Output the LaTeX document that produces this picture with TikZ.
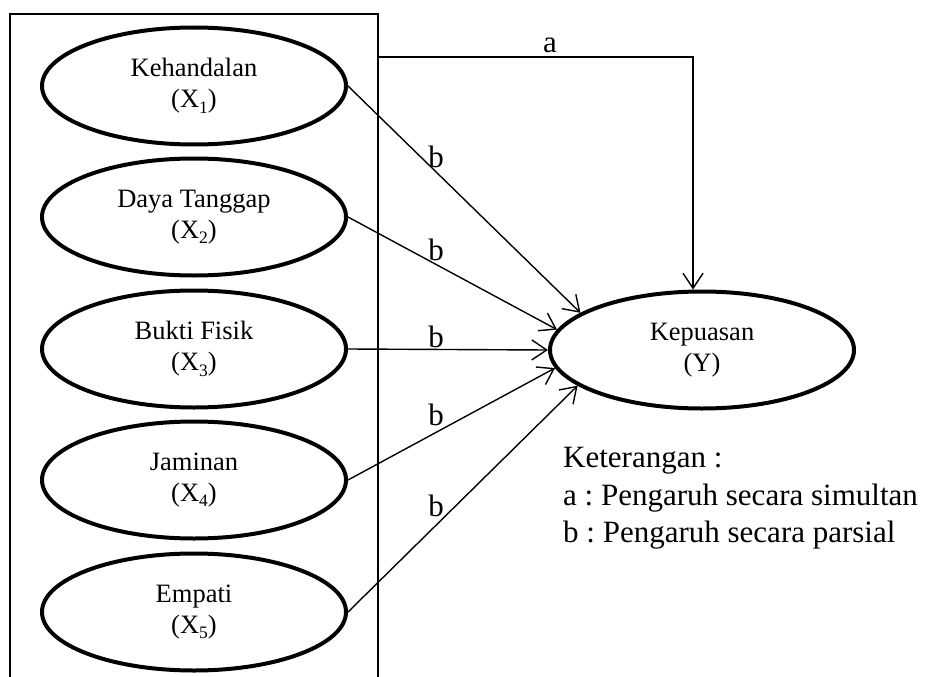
\documentclass[tikz,border=0pt]{standalone}
\usepackage{fontspec}
\setmainfont{Liberation Serif}
\usetikzlibrary{shapes.geometric,arrows.meta}
\newcommand\mysub[1]{\raisebox{-0.2em}{\fontsize{17.5}{17.5}\selectfont #1}}
\frenchspacing
\begin{document}
\begin{tikzpicture}[x=1pt,y=-1pt,
  var/.style={ellipse,draw,line width=4pt,minimum width=304pt,minimum height=117pt,inner sep=0pt,align=center,font=\fontsize{26.5}{31}\selectfont},
  conn/.style={line width=1.4pt,-{Straight Barb[length=15pt,width=20pt]}},
  lbl/.style={font=\fontsize{31}{37}\selectfont,inner sep=0pt},
  frame/.style={line width=1.4pt}]
\useasboundingbox (0,0) rectangle (929,677);
% frame
\draw[frame] (10,680) -- (10,14) -- (378,14) -- (378,680);
% variables
\node[var] (X1) at (194,86)  {Kehandalan\\(X\mysub{1})};
\node[var] (X2) at (194,217) {Daya Tanggap\\(X\mysub{2})};
\node[var] (X3) at (194,349) {Bukti Fisik\\(X\mysub{3})};
\node[var] (X4) at (194,480) {Jaminan\\(X\mysub{4})};
\node[var] (X5) at (194,612) {Empati\\(X\mysub{5})};
\node[var] (Y)  at (702,350) {Kepuasan\\(Y)};
% simultaneous path
\coordinate (aS) at (378,57);
\coordinate (aC) at (693,57);
\draw[conn] (aS) -- (aC) -- (aC |- Y.north);
\node[lbl] (la) at (550,45) {a};
% partial paths
\draw[conn] (X1.east) -- (Y.163);
\draw[conn] (X2.east) -- (Y.172);
\draw[conn] (X3.east) -- (Y.180);
\draw[conn] (X4.east) -- (Y.187);
\draw[conn] (X5.east) -- (Y.196.5);
\node[lbl] (lb1) at (436,157) {b};
\node[lbl] (lb2) at (436,250) {b};
\node[lbl] (lb3) at (436,337) {b};
\node[lbl] (lb4) at (436,415) {b};
\node[lbl] (lb5) at (436,506) {b};
% legend
\node[lbl,anchor=base west] (k1) at (563,467) {Keterangan :};
\node[lbl,anchor=base west] (k2) at (563,505) {a : Pengaruh secara simultan};
\node[lbl,anchor=base west] (k3) at (563,542) {b : Pengaruh secara parsial};
\end{tikzpicture}
\end{document}
